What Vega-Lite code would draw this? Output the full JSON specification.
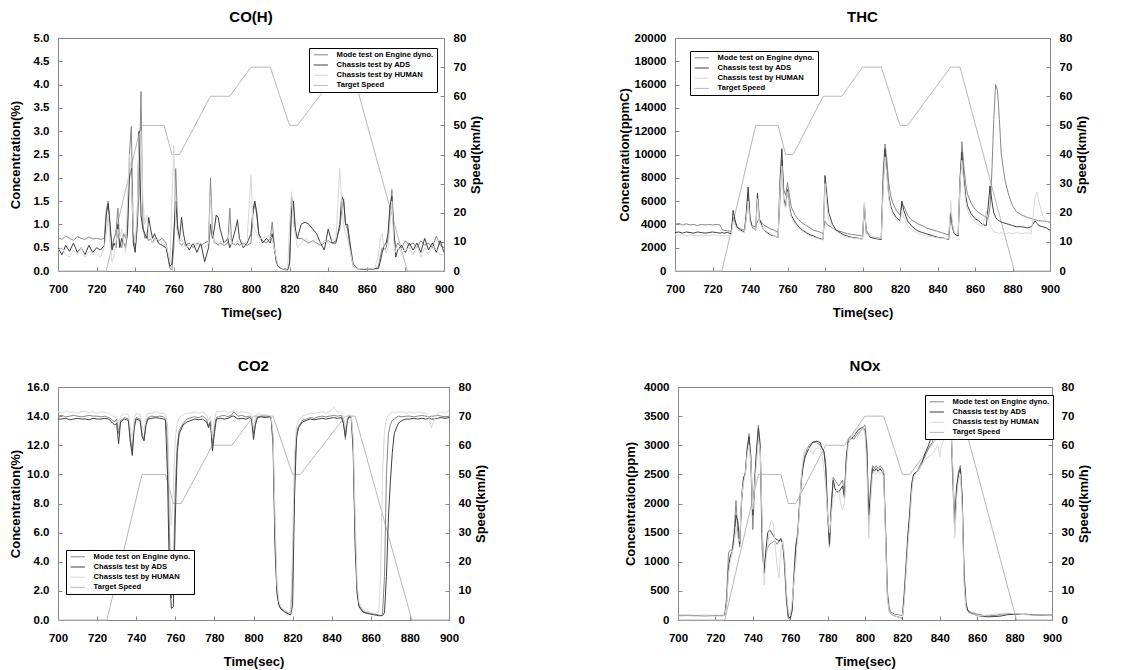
{
"$schema": "https://vega.github.io/schema/vega-lite/v6.json",
"padding": {"left": 8, "top": 9, "right": 5, "bottom": 5},
"background": "white",
"config": {
  "font": "Liberation Sans",
  "view": {"stroke": "#888888", "strokeWidth": 1},
  "axis": {"labelFontWeight": "bold", "labelFontSize": 11.5, "titleFontWeight": "bold", "titleFontSize": 13, "labelColor": "#000", "titleColor": "#000", "grid": false, "domain": false, "tickColor": "#888888", "tickSize": -4, "labelPadding": 8, "labelOverlap": false, "labelFlush": false, "labelSeparation": 0},
  "axisX": {"labelPadding": 16, "titlePadding": 12},
  "axisLeft": {"labelPadding": 13},
  "axisRight": {"labelPadding": 13, "titleAngle": 270, "titleBaseline": "top", "titlePadding": 4},
  "title": {"fontSize": 15, "fontWeight": "bold", "offset": 7},
  "legend": {"orient": "none", "title": null, "strokeColor": "#000", "fillColor": "#fff", "padding": 3, "labelFontSize": 7.6, "labelFontWeight": "bold", "symbolType": "M-3,0H3", "symbolSize": 22.5, "symbolOffset": 5, "symbolStrokeWidth": 1, "rowPadding": 1.2, "labelOffset": 12, "labelLimit": 200}
},
"datasets": {
"spd": [{"t":700,"T":0},{"t":725,"T":0},{"t":743,"T":50},{"t":755,"T":50},{"t":759,"T":40},{"t":763,"T":40},{"t":779,"T":60},{"t":789,"T":60},{"t":800,"T":70},{"t":810,"T":70},{"t":820,"T":50},{"t":824,"T":50},{"t":847,"T":70},{"t":852,"T":70},{"t":881,"T":0},{"t":900,"T":0}],
"co": [
{"t":700,"M":0.72,"A":0.5,"H":0.45},{"t":702,"M":0.68,"A":0.35,"H":0.5},{"t":704,"M":0.75,"A":0.55,"H":0.35},{"t":706,"M":0.7,"A":0.42,"H":0.3},{"t":708,"M":0.66,"A":0.6,"H":0.45},{"t":710,"M":0.74,"A":0.4,"H":0.35},{"t":712,"M":0.7,"A":0.5,"H":0.5},{"t":714,"M":0.68,"A":0.35,"H":0.3},{"t":716,"M":0.73,"A":0.55,"H":0.42},{"t":718,"M":0.69,"A":0.4,"H":0.35},{"t":720,"M":0.7,"A":0.5,"H":0.4},{"t":722,"M":0.68,"A":0.45,"H":0.3},{"t":724,"M":0.7,"A":0.55,"H":0.5},
{"t":725,"M":1.3,"A":1.2,"H":0.8},{"t":726,"M":1.5,"A":1.45,"H":1.2},{"t":727,"M":0.9,"A":1.0,"H":0.6},{"t":728,"M":0.5,"A":0.45,"H":0.2},{"t":729,"M":0.7,"A":0.6,"H":0.3},{"t":730,"M":0.8,"A":0.5,"H":0.6},{"t":731,"M":1.35,"A":1.0,"H":0.9},{"t":732,"M":0.6,"A":0.5,"H":0.7},{"t":733,"M":0.5,"A":0.7,"H":0.9},{"t":734,"M":0.8,"A":0.6,"H":0.6},{"t":735,"M":0.7,"A":0.5,"H":0.4},{"t":736,"M":1.0,"A":0.8,"H":1.5},{"t":737,"M":2.5,"A":2.0,"H":2.5},{"t":738,"M":3.1,"A":2.2,"H":2.0},{"t":739,"M":0.8,"A":0.6,"H":0.9},{"t":740,"M":0.5,"A":0.4,"H":0.6},{"t":741,"M":0.9,"A":1.0,"H":1.2},{"t":742,"M":1.65,"A":3.0,"H":2.9},{"t":743,"M":3.85,"A":1.2,"H":3.0},{"t":744,"M":1.0,"A":0.9,"H":1.5},{"t":745,"M":0.7,"A":0.8,"H":1.0},{"t":746,"M":0.75,"A":0.7,"H":1.2},{"t":747,"M":0.65,"A":1.15,"H":0.8},{"t":748,"M":0.7,"A":0.9,"H":0.7},{"t":749,"M":0.6,"A":0.7,"H":0.6},{"t":750,"M":0.7,"A":0.8,"H":0.65},{"t":752,"M":0.65,"A":0.6,"H":0.7},{"t":754,"M":0.7,"A":0.55,"H":0.6},{"t":756,"M":0.6,"A":0.5,"H":0.55},{"t":757,"M":0.3,"A":0.3,"H":0.4},{"t":758,"M":0.05,"A":0.1,"H":0.2},{"t":759,"M":0.02,"A":0.15,"H":1.5},{"t":760,"M":0.5,"A":0.8,"H":2.7},{"t":761,"M":2.2,"A":1.5,"H":1.0},{"t":762,"M":1.0,"A":0.9,"H":0.8},{"t":763,"M":0.6,"A":0.7,"H":0.6},{"t":764,"M":0.55,"A":1.15,"H":0.7},{"t":765,"M":0.6,"A":0.8,"H":0.6},{"t":766,"M":0.55,"A":0.6,"H":0.5},{"t":768,"M":0.6,"A":0.45,"H":0.55},{"t":770,"M":0.5,"A":0.6,"H":0.6},{"t":772,"M":0.6,"A":0.4,"H":0.55},{"t":774,"M":0.55,"A":0.6,"H":0.6},{"t":776,"M":0.6,"A":0.2,"H":0.5},{"t":778,"M":0.65,"A":0.5,"H":0.6},{"t":779,"M":2.0,"A":1.0,"H":1.6},{"t":780,"M":0.9,"A":0.7,"H":0.8},{"t":781,"M":0.6,"A":0.9,"H":0.6},{"t":782,"M":0.6,"A":1.2,"H":0.65},{"t":783,"M":0.55,"A":1.15,"H":0.6},{"t":784,"M":0.6,"A":0.9,"H":0.55},{"t":786,"M":0.55,"A":0.6,"H":0.6},{"t":788,"M":0.6,"A":0.7,"H":0.65},{"t":789,"M":1.35,"A":0.5,"H":0.9},{"t":790,"M":0.6,"A":0.6,"H":0.55},{"t":792,"M":0.55,"A":0.9,"H":0.6},{"t":793,"M":0.6,"A":1.1,"H":0.65},{"t":794,"M":0.55,"A":0.7,"H":0.6},{"t":796,"M":0.6,"A":0.5,"H":0.55},{"t":798,"M":0.55,"A":0.6,"H":0.65},{"t":800,"M":0.6,"A":0.8,"H":2.05},{"t":801,"M":1.2,"A":1.3,"H":1.0},{"t":802,"M":1.45,"A":1.5,"H":0.9},{"t":803,"M":1.3,"A":1.2,"H":0.8},{"t":804,"M":0.8,"A":0.8,"H":0.7},{"t":806,"M":0.65,"A":0.6,"H":0.7},{"t":808,"M":0.6,"A":0.7,"H":0.75},{"t":810,"M":0.7,"A":0.6,"H":0.75},{"t":811,"M":1.05,"A":0.8,"H":0.7},{"t":812,"M":0.6,"A":0.5,"H":0.5},{"t":813,"M":0.2,"A":0.25,"H":0.3},{"t":814,"M":0.1,"A":0.1,"H":0.12},{"t":816,"M":0.05,"A":0.05,"H":0.06},{"t":818,"M":0.02,"A":0.05,"H":0.04},{"t":819,"M":0.03,"A":0.02,"H":0.05},{"t":820,"M":0.2,"A":0.15,"H":1.0},{"t":821,"M":1.6,"A":1.3,"H":1.7},{"t":822,"M":1.4,"A":1.5,"H":1.0},{"t":823,"M":0.8,"A":0.9,"H":0.8},{"t":824,"M":0.7,"A":0.7,"H":0.5},{"t":826,"M":0.7,"A":1.0,"H":0.6},{"t":828,"M":0.65,"A":1.05,"H":0.7},{"t":830,"M":0.6,"A":1.0,"H":0.65},{"t":832,"M":0.65,"A":0.9,"H":0.6},{"t":834,"M":0.6,"A":0.8,"H":0.7},{"t":836,"M":0.55,"A":0.6,"H":0.6},{"t":838,"M":0.6,"A":0.45,"H":0.65},{"t":840,"M":0.65,"A":0.9,"H":0.6},{"t":842,"M":0.6,"A":0.6,"H":0.65},{"t":844,"M":0.65,"A":0.6,"H":0.7},{"t":846,"M":0.9,"A":1.0,"H":2.2},{"t":847,"M":1.3,"A":1.6,"H":1.5},{"t":848,"M":1.55,"A":1.5,"H":1.0},{"t":849,"M":1.0,"A":1.0,"H":0.8},{"t":850,"M":0.9,"A":1.0,"H":0.7},{"t":851,"M":0.6,"A":0.7,"H":0.5},{"t":852,"M":0.3,"A":0.4,"H":0.3},{"t":853,"M":0.1,"A":0.15,"H":0.12},{"t":855,"M":0.05,"A":0.06,"H":0.05},{"t":858,"M":0.03,"A":0.04,"H":0.05},{"t":861,"M":0.05,"A":0.03,"H":0.04},{"t":864,"M":0.04,"A":0.05,"H":0.06},{"t":866,"M":0.1,"A":0.05,"H":0.3},{"t":867,"M":0.3,"A":0.2,"H":0.7},{"t":868,"M":0.5,"A":0.4,"H":0.8},{"t":869,"M":0.45,"A":0.55,"H":0.5},{"t":870,"M":0.5,"A":0.6,"H":0.4},{"t":871,"M":0.7,"A":0.8,"H":0.5},{"t":872,"M":1.2,"A":1.4,"H":1.0},{"t":873,"M":1.75,"A":1.6,"H":1.5},{"t":874,"M":0.8,"A":0.9,"H":0.6},{"t":875,"M":0.5,"A":0.3,"H":0.4},{"t":876,"M":0.6,"A":0.45,"H":0.5},{"t":878,"M":0.5,"A":0.55,"H":0.4},{"t":880,"M":0.65,"A":0.4,"H":0.45},{"t":882,"M":0.55,"A":0.6,"H":0.5},{"t":884,"M":0.6,"A":0.45,"H":0.35},{"t":886,"M":0.5,"A":0.6,"H":0.55},{"t":888,"M":0.65,"A":0.4,"H":0.3},{"t":890,"M":0.55,"A":0.7,"H":0.5},{"t":892,"M":0.6,"A":0.45,"H":0.35},{"t":894,"M":0.5,"A":0.6,"H":0.55},{"t":896,"M":0.75,"A":0.4,"H":0.45},{"t":898,"M":0.55,"A":0.65,"H":0.35},{"t":900,"M":0.5,"A":0.4,"H":0.35}
],
"thc": [
{"t":700,"M":4000,"A":3300,"H":3100},{"t":702,"M":4100,"A":3350,"H":3050},{"t":704,"M":3950,"A":3250,"H":3100},{"t":706,"M":4050,"A":3350,"H":3000},{"t":708,"M":3950,"A":3300,"H":3100},{"t":710,"M":4000,"A":3250,"H":3050},{"t":712,"M":3900,"A":3350,"H":3000},{"t":714,"M":4000,"A":3300,"H":3100},{"t":716,"M":3950,"A":3250,"H":3050},{"t":718,"M":4000,"A":3300,"H":3000},{"t":720,"M":3950,"A":3350,"H":3100},{"t":722,"M":4000,"A":3300,"H":3050},{"t":724,"M":3950,"A":3250,"H":3000},{"t":725,"M":3600,"A":3300,"H":3050},{"t":726,"M":3500,"A":3250,"H":3000},{"t":728,"M":3450,"A":3300,"H":3050},{"t":730,"M":3400,"A":3200,"H":3100},{"t":731,"M":4600,"A":5200,"H":4300},{"t":732,"M":4200,"A":4400,"H":3900},{"t":733,"M":3800,"A":3800,"H":3600},{"t":735,"M":3600,"A":3500,"H":3400},{"t":737,"M":3500,"A":3350,"H":3300},{"t":738,"M":4500,"A":5000,"H":4500},{"t":739,"M":6500,"A":7200,"H":6000},{"t":740,"M":4500,"A":4600,"H":4200},{"t":741,"M":3900,"A":3800,"H":3700},{"t":743,"M":3800,"A":3500,"H":3500},{"t":744,"M":4300,"A":6700,"H":6200},{"t":745,"M":4400,"A":4500,"H":4200},{"t":747,"M":4000,"A":3600,"H":3600},{"t":749,"M":3800,"A":3300,"H":3400},{"t":751,"M":3600,"A":3100,"H":3200},{"t":753,"M":3500,"A":3000,"H":3000},{"t":755,"M":3300,"A":2900,"H":2900},{"t":756,"M":6000,"A":7800,"H":7000},{"t":757,"M":9500,"A":10500,"H":9000},{"t":758,"M":7000,"A":6200,"H":5800},{"t":759,"M":6500,"A":5600,"H":5400},{"t":760,"M":7600,"A":7000,"H":6800},{"t":761,"M":6500,"A":5600,"H":5400},{"t":762,"M":5500,"A":4800,"H":4600},{"t":764,"M":4800,"A":4200,"H":4000},{"t":766,"M":4400,"A":3800,"H":3700},{"t":768,"M":4100,"A":3500,"H":3400},{"t":770,"M":3900,"A":3300,"H":3200},{"t":772,"M":3700,"A":3100,"H":3000},{"t":774,"M":3500,"A":3000,"H":2900},{"t":776,"M":3400,"A":2850,"H":2800},{"t":778,"M":3300,"A":2750,"H":2700},{"t":779,"M":3200,"A":2700,"H":2650},{"t":780,"M":4300,"A":8200,"H":7500},{"t":781,"M":4000,"A":6500,"H":5500},{"t":782,"M":3900,"A":5000,"H":4300},{"t":784,"M":3700,"A":4000,"H":3700},{"t":786,"M":3500,"A":3500,"H":3400},{"t":788,"M":3400,"A":3300,"H":3200},{"t":790,"M":3300,"A":3100,"H":3000},{"t":792,"M":3200,"A":3000,"H":2900},{"t":794,"M":3150,"A":2900,"H":2850},{"t":796,"M":3100,"A":2850,"H":2800},{"t":798,"M":3050,"A":2800,"H":2800},{"t":800,"M":3000,"A":2750,"H":2700},{"t":801,"M":5800,"A":5400,"H":5900},{"t":802,"M":3500,"A":3300,"H":3200},{"t":804,"M":3000,"A":2900,"H":3000},{"t":806,"M":2900,"A":2800,"H":2900},{"t":808,"M":2850,"A":2750,"H":2800},{"t":810,"M":2800,"A":2700,"H":2800},{"t":811,"M":8500,"A":7500,"H":7000},{"t":812,"M":10900,"A":10500,"H":9800},{"t":813,"M":9500,"A":8500,"H":8200},{"t":814,"M":7500,"A":6500,"H":6200},{"t":815,"M":6500,"A":5600,"H":5400},{"t":816,"M":5900,"A":5100,"H":4900},{"t":818,"M":5200,"A":4600,"H":4400},{"t":820,"M":4800,"A":4300,"H":4100},{"t":821,"M":5800,"A":6000,"H":5200},{"t":822,"M":5600,"A":5200,"H":4600},{"t":824,"M":4800,"A":4300,"H":3900},{"t":826,"M":4400,"A":3900,"H":3600},{"t":828,"M":4200,"A":3600,"H":3400},{"t":830,"M":4000,"A":3400,"H":3200},{"t":832,"M":3900,"A":3300,"H":3100},{"t":834,"M":3700,"A":3200,"H":3000},{"t":836,"M":3600,"A":3100,"H":2950},{"t":838,"M":3500,"A":3000,"H":2900},{"t":840,"M":3400,"A":2900,"H":2850},{"t":842,"M":3300,"A":2850,"H":2800},{"t":844,"M":3200,"A":2800,"H":2800},{"t":846,"M":3100,"A":2700,"H":2750},{"t":847,"M":5000,"A":5000,"H":6000},{"t":848,"M":3600,"A":3900,"H":4000},{"t":849,"M":3200,"A":3200,"H":3300},{"t":851,"M":3000,"A":3000,"H":3100},{"t":852,"M":7000,"A":8000,"H":7500},{"t":853,"M":11100,"A":10200,"H":9500},{"t":854,"M":9000,"A":8000,"H":7500},{"t":855,"M":7500,"A":6500,"H":6000},{"t":856,"M":6600,"A":5600,"H":5200},{"t":858,"M":5800,"A":4900,"H":4500},{"t":860,"M":5300,"A":4500,"H":4200},{"t":862,"M":5000,"A":4300,"H":4000},{"t":864,"M":4800,"A":4000,"H":3800},{"t":866,"M":4600,"A":3900,"H":5100},{"t":867,"M":4500,"A":5500,"H":4500},{"t":868,"M":5500,"A":7300,"H":4000},{"t":869,"M":8500,"A":6000,"H":3600},{"t":870,"M":13000,"A":5000,"H":3400},{"t":871,"M":16000,"A":4600,"H":3300},{"t":872,"M":15500,"A":4400,"H":3300},{"t":873,"M":13000,"A":4300,"H":3200},{"t":874,"M":10000,"A":4200,"H":3300},{"t":876,"M":7800,"A":4100,"H":3200},{"t":878,"M":6500,"A":4000,"H":3300},{"t":880,"M":5600,"A":3900,"H":3200},{"t":882,"M":5100,"A":3800,"H":3300},{"t":885,"M":4800,"A":3800,"H":3200},{"t":888,"M":4600,"A":3700,"H":3300},{"t":890,"M":4500,"A":3800,"H":3200},{"t":892,"M":4400,"A":4300,"H":6300},{"t":893,"M":4350,"A":4100,"H":6800},{"t":894,"M":4300,"A":3900,"H":6000},{"t":896,"M":4300,"A":3800,"H":4800},{"t":898,"M":4250,"A":3700,"H":4300},{"t":900,"M":4200,"A":3500,"H":4000}
],
"co2": [
{"t":700,"M":14.0,"A":13.8,"H":14.3},{"t":702,"M":14.05,"A":13.8,"H":14.2},{"t":704,"M":13.95,"A":13.85,"H":14.35},{"t":706,"M":14.0,"A":13.75,"H":14.25},{"t":708,"M":14.05,"A":13.8,"H":14.3},{"t":710,"M":14.0,"A":13.85,"H":14.2},{"t":712,"M":13.95,"A":13.8,"H":14.3},{"t":714,"M":14.0,"A":13.8,"H":14.35},{"t":716,"M":14.05,"A":13.75,"H":14.25},{"t":718,"M":14.0,"A":13.85,"H":14.3},{"t":720,"M":14.0,"A":13.8,"H":14.2},{"t":722,"M":13.95,"A":13.8,"H":14.3},{"t":724,"M":14.0,"A":13.85,"H":14.25},{"t":726,"M":13.9,"A":13.8,"H":14.2},{"t":728,"M":13.7,"A":13.5,"H":14.0},{"t":729,"M":13.6,"A":13.4,"H":13.9},{"t":730,"M":13.8,"A":13.5,"H":14.0},{"t":731,"M":12.8,"A":12.1,"H":13.5},{"t":732,"M":13.7,"A":13.6,"H":14.0},{"t":734,"M":13.9,"A":13.8,"H":14.2},{"t":736,"M":13.8,"A":13.7,"H":14.1},{"t":737,"M":12.5,"A":12.2,"H":13.2},{"t":738,"M":11.6,"A":11.3,"H":12.5},{"t":739,"M":13.5,"A":13.2,"H":13.8},{"t":740,"M":13.9,"A":13.8,"H":14.2},{"t":742,"M":13.8,"A":13.7,"H":14.1},{"t":743,"M":12.8,"A":12.6,"H":13.3},{"t":744,"M":12.4,"A":12.3,"H":13.0},{"t":745,"M":13.5,"A":13.4,"H":13.9},{"t":746,"M":13.9,"A":13.8,"H":14.2},{"t":748,"M":14.0,"A":13.85,"H":14.2},{"t":750,"M":13.95,"A":13.9,"H":14.3},{"t":752,"M":14.0,"A":13.85,"H":14.2},{"t":754,"M":13.95,"A":13.8,"H":14.2},{"t":755,"M":13.8,"A":13.7,"H":14.1},{"t":756,"M":12.5,"A":10.0,"H":13.5},{"t":757,"M":6.0,"A":3.0,"H":9.0},{"t":758,"M":1.5,"A":0.8,"H":6.5},{"t":759,"M":3.0,"A":0.9,"H":9.0},{"t":760,"M":9.0,"A":7.0,"H":12.5},{"t":761,"M":12.0,"A":11.5,"H":13.5},{"t":762,"M":13.0,"A":12.8,"H":13.9},{"t":764,"M":13.5,"A":13.4,"H":14.1},{"t":766,"M":13.8,"A":13.6,"H":14.2},{"t":768,"M":13.9,"A":13.7,"H":14.2},{"t":770,"M":13.95,"A":13.8,"H":14.3},{"t":772,"M":13.9,"A":13.75,"H":14.2},{"t":774,"M":14.0,"A":13.8,"H":14.3},{"t":776,"M":13.8,"A":13.6,"H":14.1},{"t":777,"M":13.3,"A":13.2,"H":13.7},{"t":778,"M":13.7,"A":13.6,"H":14.0},{"t":779,"M":12.0,"A":11.6,"H":12.5},{"t":780,"M":13.2,"A":12.8,"H":13.8},{"t":781,"M":13.9,"A":13.8,"H":14.3},{"t":783,"M":14.0,"A":13.85,"H":14.3},{"t":785,"M":14.05,"A":13.8,"H":14.35},{"t":787,"M":13.95,"A":13.85,"H":14.25},{"t":789,"M":14.1,"A":14.0,"H":14.3},{"t":790,"M":14.3,"A":14.0,"H":14.4},{"t":792,"M":14.0,"A":13.8,"H":14.2},{"t":794,"M":14.05,"A":13.85,"H":14.3},{"t":796,"M":13.95,"A":13.8,"H":14.25},{"t":798,"M":14.0,"A":13.9,"H":14.2},{"t":799,"M":13.9,"A":13.8,"H":14.1},{"t":800,"M":12.8,"A":12.4,"H":13.2},{"t":801,"M":13.6,"A":13.4,"H":13.9},{"t":802,"M":13.95,"A":13.9,"H":14.2},{"t":804,"M":14.0,"A":13.95,"H":14.1},{"t":806,"M":14.0,"A":13.9,"H":14.1},{"t":808,"M":14.0,"A":13.95,"H":14.05},{"t":809,"M":13.9,"A":13.9,"H":14.0},{"t":810,"M":12.5,"A":12.0,"H":12.8},{"t":811,"M":6.0,"A":5.0,"H":7.0},{"t":812,"M":2.0,"A":1.8,"H":2.5},{"t":813,"M":1.1,"A":1.0,"H":1.3},{"t":814,"M":0.8,"A":0.75,"H":0.9},{"t":816,"M":0.6,"A":0.55,"H":0.65},{"t":818,"M":0.45,"A":0.4,"H":0.5},{"t":819,"M":0.6,"A":0.35,"H":0.5},{"t":820,"M":3.0,"A":1.0,"H":5.0},{"t":821,"M":10.0,"A":8.5,"H":11.5},{"t":822,"M":12.8,"A":12.5,"H":13.3},{"t":823,"M":13.3,"A":13.2,"H":13.7},{"t":825,"M":13.7,"A":13.6,"H":14.0},{"t":827,"M":13.8,"A":13.7,"H":14.1},{"t":829,"M":13.9,"A":13.8,"H":14.2},{"t":831,"M":13.85,"A":13.75,"H":14.15},{"t":833,"M":13.95,"A":13.8,"H":14.25},{"t":835,"M":14.0,"A":13.85,"H":14.3},{"t":837,"M":13.95,"A":13.8,"H":14.2},{"t":839,"M":14.0,"A":13.85,"H":14.3},{"t":841,"M":14.05,"A":13.9,"H":14.6},{"t":843,"M":14.0,"A":13.85,"H":14.3},{"t":845,"M":14.05,"A":13.9,"H":14.3},{"t":846,"M":13.6,"A":13.5,"H":14.0},{"t":847,"M":12.4,"A":12.6,"H":13.2},{"t":848,"M":13.8,"A":13.7,"H":14.0},{"t":849,"M":14.0,"A":13.95,"H":14.1},{"t":850,"M":14.0,"A":13.9,"H":14.0},{"t":851,"M":12.0,"A":11.5,"H":12.5},{"t":852,"M":6.0,"A":5.0,"H":7.0},{"t":853,"M":2.0,"A":1.8,"H":2.5},{"t":854,"M":1.0,"A":0.9,"H":1.2},{"t":856,"M":0.6,"A":0.55,"H":0.7},{"t":858,"M":0.5,"A":0.45,"H":0.6},{"t":860,"M":0.45,"A":0.4,"H":0.5},{"t":862,"M":0.4,"A":0.35,"H":0.45},{"t":864,"M":0.35,"A":0.3,"H":0.5},{"t":865,"M":0.3,"A":0.3,"H":3.0},{"t":866,"M":0.4,"A":0.3,"H":10.0},{"t":867,"M":3.0,"A":0.5,"H":13.0},{"t":868,"M":10.0,"A":3.0,"H":13.8},{"t":869,"M":12.8,"A":7.0,"H":14.1},{"t":870,"M":13.4,"A":9.5,"H":14.2},{"t":871,"M":13.7,"A":11.5,"H":14.3},{"t":872,"M":13.8,"A":12.8,"H":14.2},{"t":874,"M":14.0,"A":13.5,"H":14.3},{"t":876,"M":13.95,"A":13.7,"H":14.3},{"t":878,"M":14.0,"A":13.8,"H":14.2},{"t":880,"M":14.0,"A":13.8,"H":14.3},{"t":882,"M":13.95,"A":13.85,"H":14.2},{"t":884,"M":14.0,"A":13.8,"H":14.3},{"t":886,"M":14.05,"A":13.85,"H":14.25},{"t":888,"M":14.0,"A":13.8,"H":14.2},{"t":890,"M":13.95,"A":13.85,"H":13.8},{"t":891,"M":14.0,"A":13.8,"H":13.2},{"t":892,"M":14.0,"A":13.8,"H":13.6},{"t":894,"M":14.05,"A":13.85,"H":14.2},{"t":896,"M":14.0,"A":13.9,"H":14.3},{"t":898,"M":13.95,"A":13.85,"H":14.2},{"t":900,"M":14.0,"A":13.9,"H":14.4}
],
"nox": [
{"t":700,"M":80,"A":75,"H":70},{"t":705,"M":82,"A":78,"H":72},{"t":710,"M":78,"A":75,"H":70},{"t":715,"M":80,"A":72,"H":75},{"t":720,"M":78,"A":76,"H":70},{"t":724,"M":80,"A":75,"H":72},{"t":725,"M":90,"A":80,"H":75},{"t":726,"M":400,"A":300,"H":250},{"t":727,"M":1150,"A":900,"H":800},{"t":728,"M":1200,"A":1100,"H":1000},{"t":729,"M":1200,"A":1180,"H":1150},{"t":730,"M":1500,"A":1400,"H":1300},{"t":731,"M":2050,"A":1800,"H":1600},{"t":732,"M":1500,"A":1700,"H":1400},{"t":733,"M":1250,"A":1300,"H":1350},{"t":734,"M":2000,"A":2100,"H":2100},{"t":735,"M":2400,"A":2450,"H":2350},{"t":736,"M":2550,"A":2500,"H":2500},{"t":737,"M":2900,"A":2950,"H":2850},{"t":738,"M":3200,"A":3150,"H":3000},{"t":739,"M":2600,"A":2800,"H":2700},{"t":740,"M":1550,"A":1800,"H":1900},{"t":741,"M":2300,"A":2400,"H":2300},{"t":742,"M":2900,"A":2900,"H":2700},{"t":743,"M":3350,"A":3300,"H":3100},{"t":744,"M":2800,"A":3000,"H":2900},{"t":745,"M":1200,"A":1500,"H":1700},{"t":746,"M":850,"A":800,"H":600},{"t":747,"M":1150,"A":1200,"H":1000},{"t":748,"M":1250,"A":1500,"H":1300},{"t":749,"M":1300,"A":1550,"H":1600},{"t":750,"M":1320,"A":1500,"H":1720},{"t":751,"M":1350,"A":1450,"H":1650},{"t":752,"M":1350,"A":1400,"H":1300},{"t":753,"M":1300,"A":1380,"H":900},{"t":754,"M":1350,"A":1350,"H":720},{"t":755,"M":1380,"A":1400,"H":1200},{"t":756,"M":1350,"A":1300,"H":1350},{"t":757,"M":900,"A":1000,"H":1100},{"t":758,"M":300,"A":400,"H":500},{"t":759,"M":30,"A":60,"H":150},{"t":760,"M":10,"A":30,"H":80},{"t":761,"M":200,"A":150,"H":300},{"t":762,"M":800,"A":700,"H":650},{"t":763,"M":1300,"A":1250,"H":1000},{"t":764,"M":1500,"A":1450,"H":1400},{"t":765,"M":2000,"A":1950,"H":1900},{"t":766,"M":2450,"A":2400,"H":2500},{"t":767,"M":2700,"A":2650,"H":2800},{"t":768,"M":2850,"A":2800,"H":2950},{"t":770,"M":3000,"A":2950,"H":2950},{"t":772,"M":3050,"A":3050,"H":2850},{"t":774,"M":3050,"A":3070,"H":2950},{"t":776,"M":3000,"A":3050,"H":2950},{"t":777,"M":2950,"A":2950,"H":2850},{"t":778,"M":2900,"A":2900,"H":2600},{"t":779,"M":2700,"A":2600,"H":2300},{"t":780,"M":1900,"A":1800,"H":1800},{"t":781,"M":1250,"A":1300,"H":1500},{"t":782,"M":1900,"A":2000,"H":1800},{"t":783,"M":2450,"A":2400,"H":2100},{"t":784,"M":2400,"A":2250,"H":2150},{"t":785,"M":2350,"A":2200,"H":2250},{"t":786,"M":2300,"A":2200,"H":2200},{"t":787,"M":2350,"A":2250,"H":2000},{"t":788,"M":2400,"A":2300,"H":1900},{"t":789,"M":2150,"A":2100,"H":2000},{"t":790,"M":2750,"A":2800,"H":2600},{"t":791,"M":3100,"A":3050,"H":3000},{"t":792,"M":3150,"A":3100,"H":3100},{"t":794,"M":3100,"A":3150,"H":3200},{"t":796,"M":3200,"A":3250,"H":3150},{"t":798,"M":3250,"A":3300,"H":3250},{"t":799,"M":3320,"A":3300,"H":3300},{"t":800,"M":3350,"A":3250,"H":3200},{"t":801,"M":3000,"A":2900,"H":2600},{"t":802,"M":1600,"A":1800,"H":1400},{"t":803,"M":2300,"A":2200,"H":2000},{"t":804,"M":2650,"A":2600,"H":2500},{"t":805,"M":2600,"A":2550,"H":2550},{"t":806,"M":2650,"A":2600,"H":2500},{"t":807,"M":2600,"A":2550,"H":2550},{"t":808,"M":2650,"A":2600,"H":2500},{"t":809,"M":2620,"A":2550,"H":2550},{"t":810,"M":2550,"A":2500,"H":2450},{"t":811,"M":1600,"A":1500,"H":1400},{"t":812,"M":500,"A":400,"H":350},{"t":813,"M":200,"A":150,"H":150},{"t":814,"M":130,"A":100,"H":100},{"t":816,"M":100,"A":70,"H":70},{"t":818,"M":90,"A":50,"H":50},{"t":819,"M":80,"A":40,"H":40},{"t":820,"M":80,"A":30,"H":50},{"t":821,"M":500,"A":400,"H":300},{"t":822,"M":1000,"A":900,"H":800},{"t":823,"M":1500,"A":1450,"H":1300},{"t":824,"M":1800,"A":1900,"H":1700},{"t":825,"M":2300,"A":2350,"H":2200},{"t":826,"M":2500,"A":2500,"H":2450},{"t":828,"M":2550,"A":2550,"H":2550},{"t":830,"M":2700,"A":2650,"H":2650},{"t":832,"M":2800,"A":2850,"H":2750},{"t":834,"M":2950,"A":3000,"H":2800},{"t":836,"M":3050,"A":3200,"H":2850},{"t":837,"M":3200,"A":3350,"H":2900},{"t":838,"M":3300,"A":3430,"H":2950},{"t":839,"M":3200,"A":3350,"H":3000},{"t":840,"M":3150,"A":3200,"H":2800},{"t":841,"M":3200,"A":3250,"H":3000},{"t":842,"M":3250,"A":3250,"H":3100},{"t":843,"M":3300,"A":3350,"H":3200},{"t":844,"M":3400,"A":3450,"H":3300},{"t":845,"M":3350,"A":3400,"H":3350},{"t":846,"M":3300,"A":3350,"H":3300},{"t":847,"M":2300,"A":2500,"H":2600},{"t":848,"M":1500,"A":1700,"H":1400},{"t":849,"M":2200,"A":2300,"H":2100},{"t":850,"M":2550,"A":2500,"H":2400},{"t":851,"M":2650,"A":2600,"H":2500},{"t":852,"M":2000,"A":2100,"H":1900},{"t":853,"M":700,"A":800,"H":600},{"t":854,"M":250,"A":300,"H":200},{"t":855,"M":170,"A":150,"H":130},{"t":857,"M":130,"A":110,"H":100},{"t":860,"M":100,"A":80,"H":80},{"t":863,"M":80,"A":60,"H":70},{"t":866,"M":70,"A":55,"H":90},{"t":870,"M":80,"A":60,"H":100},{"t":873,"M":100,"A":70,"H":110},{"t":876,"M":110,"A":90,"H":120},{"t":880,"M":110,"A":100,"H":110},{"t":883,"M":100,"A":95,"H":100},{"t":886,"M":95,"A":100,"H":90},{"t":890,"M":90,"A":85,"H":85},{"t":895,"M":90,"A":80,"H":85},{"t":900,"M":85,"A":80,"H":80}
]
},
"spacing": 349,
"bounds": "flush",
"resolve": {"scale": {"color": "independent"}, "legend": {"color": "independent"}},
"vconcat": [
{"hconcat": [
  {"width": 386, "height": 233, "title": "CO(H)",
   "layer": [
    {"data": {"name": "spd"}, "mark": {"type": "line", "strokeWidth": 1},
     "encoding": {"x": {"field": "t", "type": "quantitative", "scale": {"domain": [700, 900], "nice": false}, "axis": {"values": [700,720,740,760,780,800,820,840,860,880,900], "format": "d", "title": "Time(sec)", "labelOverlap": false, "labelSeparation": 0}},
      "y": {"field": "T", "type": "quantitative", "scale": {"domain": [0, 80], "nice": false}, "axis": {"orient": "right", "values": [0,10,20,30,40,50,60,70,80], "title": "Speed(km/h)"}},
      "color": {"datum": "T", "type": "nominal"}}},
    {"data": {"name": "co"}, "transform": [{"fold": ["M", "A", "H"], "as": ["s", "v"]}, {"filter": "isValid(datum.v)"}],
     "mark": {"type": "line", "strokeWidth": 1, "clip": true},
     "encoding": {"x": {"field": "t", "type": "quantitative", "scale": {"domain": [700, 900], "nice": false}, "axis": {"values": [700,720,740,760,780,800,820,840,860,880,900], "format": "d", "title": "Time(sec)", "labelOverlap": false, "labelSeparation": 0}},
      "y": {"field": "v", "type": "quantitative", "scale": {"domain": [0, 5], "nice": false}, "axis": {"orient": "left", "values": [0,0.5,1,1.5,2,2.5,3,3.5,4,4.5,5], "format": ".1f", "title": "Concentration(%)", "titlePadding": 11}},
      "color": {"field": "s", "type": "nominal", "scale": {"domain": ["M", "A", "H", "T"], "range": ["#888888", "#404040", "#d8d8d8", "#b8b8b8"]},
       "legend": {"legendX": 251, "legendY": 10, "labelExpr": "datum.label == 'M' ? 'Mode test on Engine dyno.' : datum.label == 'A' ? 'Chassis test by ADS' : datum.label == 'H' ? 'Chassis test by HUMAN' : 'Target Speed'"}}}}
   ],
   "resolve": {"scale": {"y": "independent"}}},
  {"width": 375, "height": 233, "title": "THC",
   "layer": [
    {"data": {"name": "spd"}, "mark": {"type": "line", "strokeWidth": 1},
     "encoding": {"x": {"field": "t", "type": "quantitative", "scale": {"domain": [700, 900], "nice": false}, "axis": {"values": [700,720,740,760,780,800,820,840,860,880,900], "format": "d", "title": "Time(sec)", "labelOverlap": false, "labelSeparation": 0}},
      "y": {"field": "T", "type": "quantitative", "scale": {"domain": [0, 80], "nice": false}, "axis": {"orient": "right", "values": [0,10,20,30,40,50,60,70,80], "title": "Speed(km/h)"}},
      "color": {"datum": "T", "type": "nominal"}}},
    {"data": {"name": "thc"}, "transform": [{"fold": ["M", "A", "H"], "as": ["s", "v"]}, {"filter": "isValid(datum.v)"}],
     "mark": {"type": "line", "strokeWidth": 1, "clip": true},
     "encoding": {"x": {"field": "t", "type": "quantitative", "scale": {"domain": [700, 900], "nice": false}, "axis": {"values": [700,720,740,760,780,800,820,840,860,880,900], "format": "d", "title": "Time(sec)", "labelOverlap": false, "labelSeparation": 0}},
      "y": {"field": "v", "type": "quantitative", "scale": {"domain": [0, 20000], "nice": false}, "axis": {"orient": "left", "values": [0,2000,4000,6000,8000,10000,12000,14000,16000,18000,20000], "format": "d", "title": "Concentration(ppmC)", "titlePadding": 3}},
      "color": {"field": "s", "type": "nominal", "scale": {"domain": ["M", "A", "H", "T"], "range": ["#888888", "#404040", "#d8d8d8", "#b8b8b8"]},
       "legend": {"legendX": 15, "legendY": 13, "labelExpr": "datum.label == 'M' ? 'Mode test on Engine dyno.' : datum.label == 'A' ? 'Chassis test by ADS' : datum.label == 'H' ? 'Chassis test by HUMAN' : 'Target Speed'"}}}}
   ],
   "resolve": {"scale": {"y": "independent"}}}
 ],
 "spacing": 231, "bounds": "flush",
 "resolve": {"scale": {"color": "independent"}, "legend": {"color": "independent"}}},
{"hconcat": [
  {"width": 391, "height": 233, "title": "CO2",
   "layer": [
    {"data": {"name": "spd"}, "mark": {"type": "line", "strokeWidth": 1},
     "encoding": {"x": {"field": "t", "type": "quantitative", "scale": {"domain": [700, 900], "nice": false}, "axis": {"values": [700,720,740,760,780,800,820,840,860,880,900], "format": "d", "title": "Time(sec)", "labelOverlap": false, "labelSeparation": 0}},
      "y": {"field": "T", "type": "quantitative", "scale": {"domain": [0, 80], "nice": false}, "axis": {"orient": "right", "values": [0,10,20,30,40,50,60,70,80], "title": "Speed(km/h)"}},
      "color": {"datum": "T", "type": "nominal"}}},
    {"data": {"name": "co2"}, "transform": [{"fold": ["M", "A", "H"], "as": ["s", "v"]}, {"filter": "isValid(datum.v)"}],
     "mark": {"type": "line", "strokeWidth": 1, "clip": true},
     "encoding": {"x": {"field": "t", "type": "quantitative", "scale": {"domain": [700, 900], "nice": false}, "axis": {"values": [700,720,740,760,780,800,820,840,860,880,900], "format": "d", "title": "Time(sec)", "labelOverlap": false, "labelSeparation": 0}},
      "y": {"field": "v", "type": "quantitative", "scale": {"domain": [0, 16], "nice": false}, "axis": {"orient": "left", "values": [0,2,4,6,8,10,12,14,16], "format": ".1f", "title": "Concentration(%)", "titlePadding": 4}},
      "color": {"field": "s", "type": "nominal", "scale": {"domain": ["M", "A", "H", "T"], "range": ["#888888", "#404040", "#d8d8d8", "#b8b8b8"]},
       "legend": {"legendX": 8, "legendY": 163, "labelExpr": "datum.label == 'M' ? 'Mode test on Engine dyno.' : datum.label == 'A' ? 'Chassis test by ADS' : datum.label == 'H' ? 'Chassis test by HUMAN' : 'Target Speed'"}}}}
   ],
   "resolve": {"scale": {"y": "independent"}}},
  {"width": 374, "height": 233, "title": "NOx",
   "layer": [
    {"data": {"name": "spd"}, "mark": {"type": "line", "strokeWidth": 1},
     "encoding": {"x": {"field": "t", "type": "quantitative", "scale": {"domain": [700, 900], "nice": false}, "axis": {"values": [700,720,740,760,780,800,820,840,860,880,900], "format": "d", "title": "Time(sec)", "labelOverlap": false, "labelSeparation": 0}},
      "y": {"field": "T", "type": "quantitative", "scale": {"domain": [0, 80], "nice": false}, "axis": {"orient": "right", "values": [0,10,20,30,40,50,60,70,80], "title": "Speed(km/h)"}},
      "color": {"datum": "T", "type": "nominal"}}},
    {"data": {"name": "nox"}, "transform": [{"fold": ["M", "A", "H"], "as": ["s", "v"]}, {"filter": "isValid(datum.v)"}],
     "mark": {"type": "line", "strokeWidth": 1, "clip": true},
     "encoding": {"x": {"field": "t", "type": "quantitative", "scale": {"domain": [700, 900], "nice": false}, "axis": {"values": [700,720,740,760,780,800,820,840,860,880,900], "format": "d", "title": "Time(sec)", "labelOverlap": false, "labelSeparation": 0}},
      "y": {"field": "v", "type": "quantitative", "scale": {"domain": [0, 4000], "nice": false}, "axis": {"orient": "left", "values": [0,500,1000,1500,2000,2500,3000,3500,4000], "format": "d", "title": "Concentration(ppm)", "titlePadding": 6}},
      "color": {"field": "s", "type": "nominal", "scale": {"domain": ["M", "A", "H", "T"], "range": ["#888888", "#404040", "#d8d8d8", "#b8b8b8"]},
       "legend": {"legendX": 247, "legendY": 8, "labelExpr": "datum.label == 'M' ? 'Mode test on Engine dyno.' : datum.label == 'A' ? 'Chassis test by ADS' : datum.label == 'H' ? 'Chassis test by HUMAN' : 'Target Speed'"}}}}
   ],
   "resolve": {"scale": {"y": "independent"}}}
 ],
 "spacing": 229, "bounds": "flush",
 "resolve": {"scale": {"color": "independent"}, "legend": {"color": "independent"}}}
]
}
